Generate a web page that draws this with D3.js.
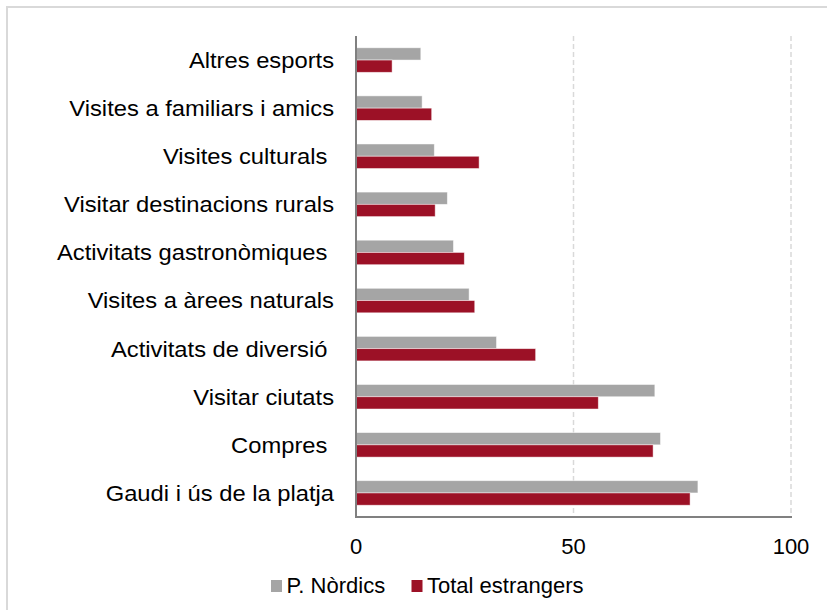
<!DOCTYPE html>
<html>
<head>
<meta charset="utf-8">
<script src="https://cdn.jsdelivr.net/npm/d3@7"></script>
<style>
  body { margin: 0; background: #fff; }
  svg { display: block; font-family: "Liberation Sans", Arial, sans-serif; }
  text { white-space: pre; fill: #000; }
</style>
</head>
<body>
<svg id="chart" width="827" height="610"></svg>
<script>
// categories top to bottom (trailing spaces kept as in the original)
const categories = [
  'Altres esports',
  'Visites a familiars i amics',
  'Visites culturals ',
  'Visitar destinacions rurals',
  'Activitats gastronòmiques ',
  'Visites a àrees naturals',
  'Activitats de diversió ',
  'Visitar ciutats',
  'Compres ',
  'Gaudi i ús de la platja'
]
const series = ['P. Nòrdics', 'Total estrangers']
const nordics = [14.9, 15.2, 18.0, 21.0, 22.4, 26.0, 32.3, 68.7, 70.0, 78.6]
const totalEstrangers = [8.3, 17.4, 28.3, 18.2, 24.9, 27.3, 41.3, 55.7, 68.3, 76.8]
const xTicks = [0, 50, 100]

const COLORS = ['#a5a5a5', '#9c1126']

const $svg = d3.select('#chart')
const MARGIN = { top: 36, left: 356, right: 36, bottom: 93 }
const width = 827, height = 610

// outer frame
$svg.append('rect')
  .attr('x', 7).attr('y', 7)
  .attr('width', width + 10).attr('height', height + 10)
  .attr('fill', 'none')
  .attr('stroke', '#d9d9d9')
  .attr('stroke-width', 2)

const xScale = d3.scaleLinear()
  .domain([0, 100])
  .range([MARGIN.left, 791])
const yScale = d3.scaleBand()
  .domain(categories)
  .range([MARGIN.top, height - MARGIN.bottom])
  .paddingInner(0.49)
  .paddingOuter(0.245)
const ySub = d3.scaleBand()
  .domain(series)
  .range([0, yScale.bandwidth()])

// gridlines
$svg.append('g')
  .selectAll('line')
  .data(xTicks.filter(d => d > 0))
  .join('line')
    .attr('x1', d => xScale(d)).attr('x2', d => xScale(d))
    .attr('y1', MARGIN.top).attr('y2', height - MARGIN.bottom)
    .attr('stroke', '#d9d9d9')
    .attr('stroke-width', 1.5)
    .attr('stroke-dasharray', '5,3')

const rows = categories.map((c, i) => ({ cat: c, vals: [nordics[i], totalEstrangers[i]] }))

const $rows = $svg.append('g')
  .selectAll('g')
  .data(rows)
  .join('g')
    .attr('transform', d => `translate(0,${yScale(d.cat)})`)

$rows.selectAll('rect')
  .data(d => d.vals.map((v, j) => ({ s: series[j], v, j })))
  .join('rect')
    .attr('x', xScale(0))
    .attr('y', d => ySub(d.s))
    .attr('width', d => xScale(d.v) - xScale(0))
    .attr('height', ySub.bandwidth())
    .attr('fill', d => COLORS[d.j])
    .attr('stroke', 'rgba(255,255,255,0.6)')
    .attr('stroke-width', 0.8)

// category labels (slightly wider glyphs in the original)
$svg.append('g')
  .selectAll('text')
  .data(categories)
  .join('text')
    .attr('transform', d => `translate(334,${yScale(d) + yScale.bandwidth() / 2}) scale(1.08,1)`)
    .attr('dy', '0.36em')
    .attr('text-anchor', 'end')
    .attr('font-size', 22)
    .text(d => d)

// axes lines
$svg.append('line')
  .attr('x1', xScale(0)).attr('x2', xScale(0))
  .attr('y1', MARGIN.top).attr('y2', height - MARGIN.bottom + 1)
  .attr('stroke', '#808080').attr('stroke-width', 2)
$svg.append('line')
  .attr('x1', xScale(0) - 1).attr('x2', xScale(100) + 1)
  .attr('y1', height - MARGIN.bottom).attr('y2', height - MARGIN.bottom)
  .attr('stroke', '#808080').attr('stroke-width', 2)

// tick labels
$svg.append('g')
  .selectAll('text')
  .data(xTicks)
  .join('text')
    .attr('x', d => xScale(d))
    .attr('y', 554)
    .attr('text-anchor', 'middle')
    .attr('font-size', 22)
    .text(d => d)

// legend
const legendX = [271, 411.5]
const $legend = $svg.append('g')
  .selectAll('g')
  .data(series)
  .join('g')
    .attr('transform', (d, i) => `translate(${legendX[i]},580)`)
$legend.append('rect')
  .attr('width', 11).attr('height', 12)
  .attr('fill', (d, i) => COLORS[i])
$legend.append('text')
  .attr('x', 15.5)
  .attr('y', 12.7)
  .attr('font-size', 22)
  .text(d => d)
</script>
</body>
</html>
